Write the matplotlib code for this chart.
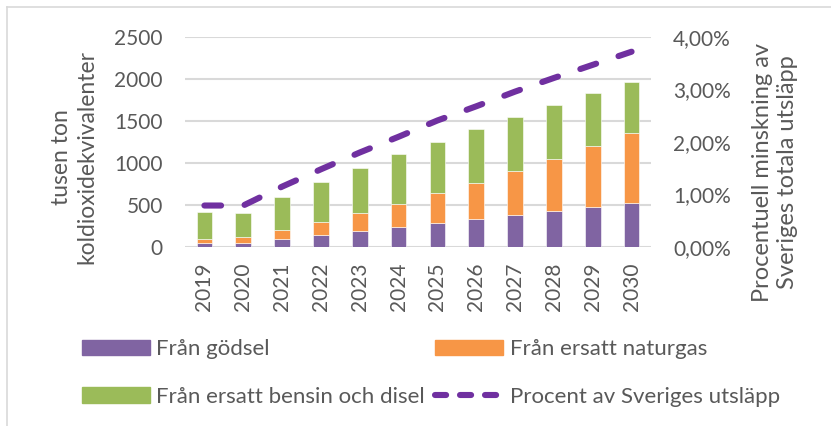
import matplotlib
matplotlib.use("Agg")
import matplotlib.pyplot as plt
import numpy as np
from matplotlib.lines import Line2D
from matplotlib.patches import Patch

plt.rcParams['font.family'] = ['Lato', 'DejaVu Sans']
plt.rcParams['lines.scale_dashes'] = False

years = ["2019", "2020", "2021", "2022", "2023", "2024",
         "2025", "2026", "2027", "2028", "2029", "2030"]
godsel = [44, 44, 95, 139, 190, 234, 281, 329, 376, 424, 471, 519]
naturgas = [55, 71, 103, 158, 214, 277, 357, 431, 523, 621, 729, 835]
bensin = [317, 293, 396, 475, 542, 594, 617, 646, 649, 646, 630, 606]
procent = [0.79, 0.79, 1.15, 1.48, 1.80, 2.10, 2.41, 2.68, 2.96, 3.22, 3.47, 3.72]

c_purple = "#8064a2"
c_orange = "#f79646"
c_green = "#9bbb59"
c_line = "#7030a0"
c_text = "#595959"
c_grid = "#d9d9d9"

W, H = 831, 426
fig = plt.figure(figsize=(W / 100, H / 100), dpi=100)
ax = fig.add_axes([185 / W, 1 - 247 / H, (651 - 185) / W, (247 - 37) / H])

x = np.arange(len(years))
bw = 0.40
b1 = np.array(godsel)
b2 = b1 + np.array(naturgas)
ax.bar(x, godsel, bw, color=c_purple, edgecolor="white", linewidth=0.4, zorder=3)
ax.bar(x, naturgas, bw, bottom=b1, color=c_orange, edgecolor="white", linewidth=0.4, zorder=3)
ax.bar(x, bensin, bw, bottom=b2, color=c_green, edgecolor="white", linewidth=0.4, zorder=3)

ax.set_xlim(-0.5, len(years) - 0.5)
ax.set_ylim(0, 2500)
ax.set_yticks(range(0, 2501, 500))
ax.set_xticks(x)
ax.set_xticklabels(years, rotation=90)
ax.yaxis.grid(True, color=c_grid, linewidth=1.5, zorder=0)
ax.set_axisbelow(True)
for s in ax.spines.values():
    s.set_visible(False)
ax.tick_params(axis="y", length=0, pad=16, labelsize=15, labelcolor=c_text)
ax.tick_params(axis="x", length=0, pad=11, labelsize=15, labelcolor=c_text)

ax2 = ax.twinx()
ax2.plot(x, procent, color=c_line, linewidth=4.4, dashes=(12, 17),
         dash_capstyle="round", solid_capstyle="round", zorder=5)
ax2.set_ylim(0, 4)
ax2.set_yticks(range(0, 5))
ax2.set_yticklabels([f"{v:.2f}%".replace(".", ",") for v in range(0, 5)])
for s in ax2.spines.values():
    s.set_visible(False)
ax2.tick_params(axis="y", length=0, pad=16, labelsize=15, labelcolor=c_text)

fig.text(74 / W, 1 - 157 / H, "tusen ton\nkoldioxidekvivalenter", rotation=90,
         ha="center", va="center", multialignment="center",
         fontsize=16.5, color=c_text, linespacing=1.25)
fig.text(775 / W, 1 - 172 / H, "Procentuell minskning av\nSveriges totala utsläpp", rotation=90,
         ha="center", va="center", multialignment="center",
         fontsize=17, color=c_text, linespacing=1.25)

handles = [
    Patch(color=c_purple, label="Från gödsel"),
    Patch(color=c_green, label="Från ersatt bensin och disel"),
    Patch(color=c_orange, label="Från ersatt naturgas"),
    Line2D([], [], color=c_line, linewidth=4.4, dashes=(8, 10),
           dash_capstyle="round", label="Procent av Sveriges utsläpp"),
]
leg = fig.legend(handles=handles, ncol=2, frameon=False, loc="center left",
                 bbox_to_anchor=(82 / W, 1 - 373 / H), fontsize=16,
                 handlelength=3.05, handleheight=0.7, handletextpad=0.3,
                 columnspacing=0.45, labelspacing=1.25, borderpad=0,
                 borderaxespad=0)
for t in leg.get_texts():
    t.set_color(c_text)

# faint chart border (top and left)
fig.add_artist(Line2D([7 / W, 7 / W], [0, 1 - 7 / H], color=c_grid, linewidth=1.2))
fig.add_artist(Line2D([7 / W, 1], [1 - 7 / H, 1 - 7 / H], color=c_grid, linewidth=1.2))

fig.savefig("out.png", dpi=100)
